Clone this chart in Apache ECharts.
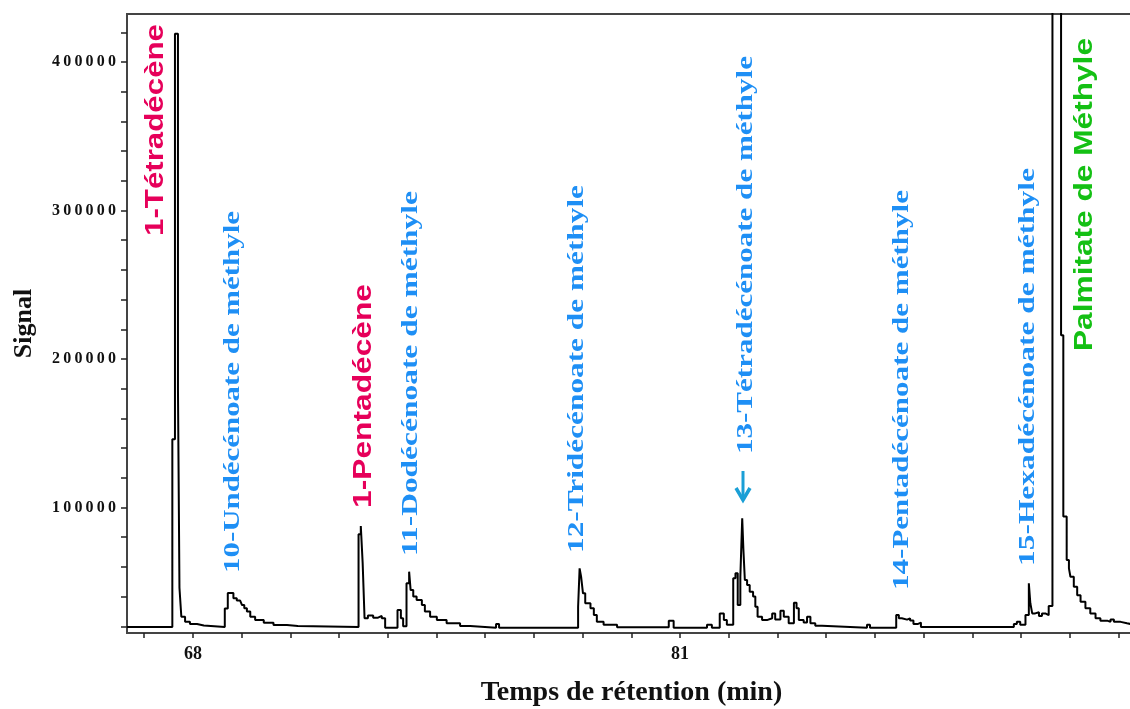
<!DOCTYPE html>
<html>
<head>
<meta charset="utf-8">
<style>
  html, body { margin: 0; background: #fff; }
  #chart { width: 1130px; height: 709px; }
</style>
<script src="https://cdn.jsdelivr.net/npm/echarts@6.0.0/dist/echarts.min.js"></script>
</head>
<body>
<div id="chart"></div>
<script>
// retention time (min) and detector signal
const retentionTime = [
  66.24, 67.45, 67.52, 67.60, 67.64, 67.69, 67.79, 67.92, 68.11, 68.29,
  68.85, 68.93, 69.08, 69.17, 69.26, 69.31, 69.37, 69.44, 69.53, 69.66, 69.89, 70.15, 70.51, 70.80,
  72.42, 72.48, 72.53, 72.58, 72.67, 72.81, 72.94, 73.04, 73.13,
  73.46, 73.55, 73.61, 73.70, 73.77, 73.81, 73.88, 73.97, 74.11, 74.19, 74.33, 74.51, 74.77, 75.13, 75.40,
  76.09, 76.17,
  78.28, 78.32, 78.36, 78.41, 78.47, 78.61, 78.70, 78.78, 78.96, 79.32,
  80.70, 80.83,
  81.72, 81.85,
  82.06, 82.17, 82.25, 82.42, 82.48, 82.54, 82.61, 82.66, 82.69, 82.73,
  82.79, 82.86, 82.95, 83.01, 83.07, 83.19, 83.32, 83.46, 83.54, 83.68,
  83.77, 83.90, 84.04, 84.11, 84.17, 84.30, 84.39, 84.48, 84.61, 84.79,
  85.99, 86.07,
  86.77, 86.84, 86.92, 87.06, 87.14, 87.23, 87.34, 87.43,
  89.91, 89.99, 90.08, 90.22, 90.31, 90.35, 90.40, 90.48, 90.58, 90.66, 90.75, 90.84, 90.94,
  91.17, 91.23, 91.32, 91.38, 91.42, 91.51, 91.60, 91.69, 91.82, 91.95, 92.09, 92.22, 92.40, 92.49, 92.58, 92.76, 92.93, 93.09
];
const signal = [
  19500, 146000, 419000, 180000, 46000, 26500, 23000, 21500, 20500, 19500,
  32000, 42400, 38900, 37300, 36000, 34300, 32100, 29900, 26500, 24200, 22400, 20900, 20200, 19500,
  82000, 87500, 62400, 25400, 27200, 25800, 27000, 25500, 19000,
  31000, 25400, 20000, 49000, 56800, 44400, 40000, 37700, 34300, 29900, 26500, 24200, 22000, 20200, 19000,
  21500, 19000,
  33200, 59000, 53400, 42200, 35500, 32100, 27600, 23100, 21000, 19300,
  23800, 19000,
  21000, 19000,
  28700, 24200, 21000, 52300, 55700, 34300, 53400, 92700, 72500, 51200,
  47800, 43300, 40000, 33200, 26500, 24200, 25400, 28700, 24600, 30500,
  26500, 22000, 35900, 32100, 24200, 22500, 26500, 22000, 20300, 19000,
  21000, 19000,
  27600, 25400, 24500, 25400, 24000, 21500, 22500, 19500,
  21500, 23000, 21000, 27600, 49000, 35500, 28700, 29500, 27000, 28700, 27500, 33700, 500000,
  216000, 94000, 64600, 59000, 53400, 46700, 41000, 36600, 32100, 28700, 25400, 23800, 23000, 24600, 23000, 22000, 21300, 21300
];

const xTicks = [66.7, 68, 69.3, 70.6, 71.9, 73.2, 74.5, 75.8, 77.1, 78.4, 79.7,
  81, 82.3, 83.6, 84.9, 86.2, 87.5, 88.8, 90.1, 91.4, 92.7];
const xLabels = [68, 81];
const yTicks = [20000, 40000, 60000, 80000, 100000, 120000, 140000, 160000, 180000, 200000,
  220000, 240000, 260000, 280000, 300000, 320000, 340000, 360000, 380000, 400000, 420000];
const yLabels = [100000, 200000, 300000, 400000];

const peakNames = [
  '1-Tétradécène', '10-Undécénoate de méthyle', '1-Pentadécène', '11-Dodécénoate de méthyle',
  '12-Tridécénoate de méthyle', '13-Tétradécénoate de méthyle', '14-Pentadécénoate de méthyle',
  '15-Hexadécénoate de méthyle', 'Palmitate de Méthyle'
];
const peakKinds = ['alkene', 'ester', 'alkene', 'ester', 'ester', 'ester', 'ester', 'ester', 'main'];

// label placement: column centre x, bottom y, text length (px)
const labelLayout = [
  [156, 236, 212], [233, 573, 362], [364, 508, 224], [411, 556, 365], [577, 553, 368],
  [746, 454, 398], [902, 590, 400], [1028, 566, 398], [1085, 351, 313]
];

const serif = '"Liberation Serif", "Times New Roman", serif';
const sans = '"Liberation Sans", Arial, sans-serif';
const colors = { alkene: '#e6005a', ester: '#1e8ff5', main: '#14c014' };

const ctx = document.createElement('canvas').getContext('2d');

function peakLabel(name, kind, pos) {
  const isEster = kind === 'ester';
  const size = isEster ? 23 : 25;
  const family = isEster ? serif : sans;
  ctx.font = 'bold ' + size + 'px ' + family;
  const w = ctx.measureText(name).width;
  return {
    type: 'text',
    x: pos[0],
    y: pos[1],
    rotation: Math.PI / 2,
    scaleX: pos[2] / w,
    style: {
      text: name,
      fill: colors[kind],
      fontSize: size,
      fontWeight: 'bold',
      fontFamily: family,
      textAlign: 'left',
      textVerticalAlign: 'middle'
    }
  };
}

const chart = echarts.init(document.getElementById('chart'));

const graphics = peakNames.map((n, i) => peakLabel(n, peakKinds[i], labelLayout[i]));
// arrow pointing at the 13-Tétradécénoate peak
graphics.push({
  type: 'group',
  children: [
    { type: 'line', shape: { x1: 743, y1: 471, x2: 743, y2: 499 }, style: { stroke: '#1a9fd6', lineWidth: 3 } },
    { type: 'polyline', shape: { points: [[736, 488], [743, 500], [750, 488]] }, style: { stroke: '#1a9fd6', lineWidth: 3.5, fill: null } }
  ]
});

chart.setOption({
  animation: false,
  grid: {
    left: 127, top: 14, right: -6, bottom: 76,
    outerBoundsMode: 'none',
    containLabel: false,
    show: true, borderColor: '#444', borderWidth: 2
  },
  xAxis: {
    type: 'value',
    min: 66.24,
    max: 93.17,
    name: 'Temps de rétention (min)',
    nameLocation: 'middle',
    nameGap: 46,
    nameTextStyle: { fontFamily: serif, fontWeight: 'bold', fontSize: 28, color: '#111' },
    axisLine: { show: true, onZero: false, lineStyle: { color: '#444', width: 2 } },
    axisTick: { show: true, customValues: xTicks, length: 5, lineStyle: { color: '#222', width: 1.5 } },
    axisLabel: { customValues: xLabels, margin: 12, fontFamily: serif, fontWeight: 'bold', fontSize: 18, color: '#111' },
    splitLine: { show: false }
  },
  yAxis: {
    type: 'value',
    min: 15500,
    max: 432300,
    name: 'Signal',
    nameLocation: 'middle',
    nameRotate: 90,
    nameGap: 90,
    nameTextStyle: { fontFamily: serif, fontWeight: 'bold', fontSize: 26, color: '#111' },
    axisLine: { show: true, lineStyle: { color: '#444', width: 2 } },
    axisTick: { show: true, customValues: yTicks, length: 6, lineStyle: { color: '#222', width: 1.5 } },
    axisLabel: {
      customValues: yLabels,
      margin: 11,
      fontFamily: serif, fontWeight: 'bold', fontSize: 16, color: '#111',
      formatter: v => String(v).split('').join('\u2009')
    },
    splitLine: { show: false }
  },
  series: [{
    type: 'line',
    data: retentionTime.map((t, i) => [t, signal[i]]),
    step: 'end',
    symbol: 'none',
    clip: true,
    lineStyle: { color: '#000', width: 2 }
  }],
  graphic: graphics
});
</script>
</body>
</html>
